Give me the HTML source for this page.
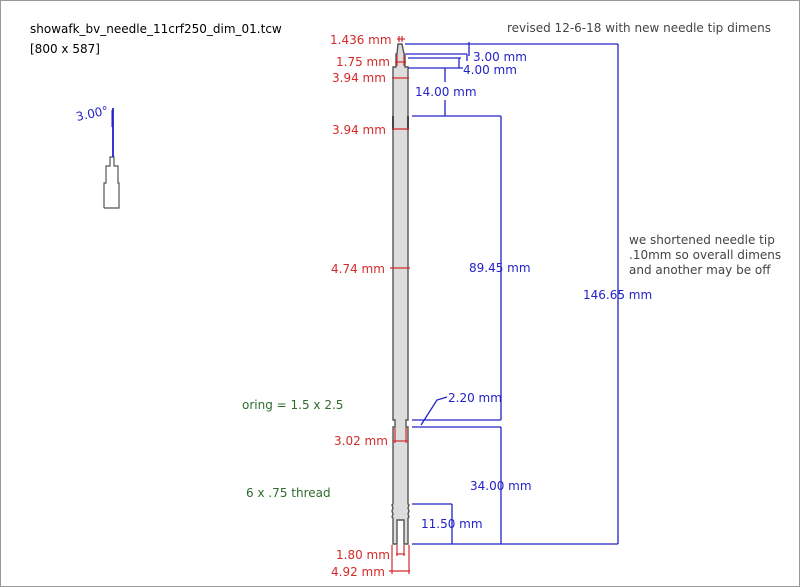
<!DOCTYPE html>
<html><head><style>
body{margin:0;background:#fff}
svg{display:block}
text{font-family:"DejaVu Sans","Liberation Sans",sans-serif;font-size:12px}
.r{fill:#d42a2a}.b{fill:#2323c8}.g{fill:#2f6b2f}.k{fill:#000}
</style></head><body>
<svg width="800" height="587" viewBox="0 0 800 587" xmlns="http://www.w3.org/2000/svg">
<rect x="0.5" y="0.5" width="799" height="586" fill="#fff" stroke="#999"/>
<text x="30" y="33" class="k" font-size="12">showafk_bv_needle_11crf250_dim_01.tcw</text>
<text x="30" y="53" class="k">[800 x 587]</text>
<text x="507" y="32" fill="#444">revised 12-6-18 with new needle tip dimens</text>
<text x="629" y="244" fill="#444">we shortened needle tip</text>
<text x="629" y="259" fill="#444">.10mm so overall dimens</text>
<text x="629" y="274" fill="#444">and another may be off</text>
<g stroke="#555" fill="none" stroke-width="1.2">
<polyline points="104,208 104,183 106,183 106,166 110,166 110,157 114,157 114,166 118,166 118,183 119,183 119,208 104,208"/>
</g>
<line x1="113" y1="108" x2="113" y2="157" stroke="#2323c8" stroke-width="1.8"/>
<line x1="112" y1="110" x2="112" y2="127" stroke="#2323c8"/>
<text x="77" y="121" class="b" transform="rotate(-12 77 121)">3.00°</text>
<path d="M398,44 L402,44 L404,54 L405,54 L405,67 L408,67 L408,420 L406,420 L406,427 L408,427 L408,504 L409,505 L408,508 L409,511 L408,514 L409,517 L408,518 L408,544 L404,544 L404,520 L397,520 L397,544 L393,544 L393,518 L392,517 L393,514 L392,511 L393,508 L392,505 L393,504 L393,427 L395,427 L395,420 L393,420 L393,67 L396,67 L396,54 L397,54 Z" fill="#ddd" stroke="#555" stroke-width="1.4"/>
<line x1="393" y1="116" x2="393" y2="130" stroke="#444" stroke-width="2"/>
<line x1="408" y1="116" x2="408" y2="130" stroke="#444" stroke-width="2"/>
<g stroke="#d42a2a" stroke-width="1.2">
<line x1="397" y1="39" x2="405" y2="39"/><line x1="399" y1="36" x2="399" y2="42"/><line x1="402" y1="36" x2="402" y2="42"/>
<line x1="395" y1="62" x2="406" y2="62"/><line x1="397" y1="55" x2="397" y2="66"/><line x1="404" y1="55" x2="404" y2="66"/>
<line x1="392" y1="78" x2="409" y2="78"/>
<line x1="392" y1="129" x2="409" y2="129"/>
<line x1="390" y1="268" x2="410" y2="268"/>
<line x1="393" y1="441" x2="408" y2="441"/><line x1="395" y1="428" x2="395" y2="443"/><line x1="406" y1="428" x2="406" y2="443"/>
<line x1="397" y1="545" x2="397" y2="556"/><line x1="404" y1="545" x2="404" y2="556"/><line x1="396" y1="554" x2="405" y2="554"/>
<line x1="392" y1="545" x2="392" y2="574"/><line x1="409" y1="545" x2="409" y2="574"/><line x1="389" y1="571" x2="410" y2="571"/>
</g>
<text x="330" y="44" class="r">1.436 mm</text>
<text x="336" y="66" class="r">1.75 mm</text>
<text x="332" y="82" class="r">3.94 mm</text>
<text x="332" y="134" class="r">3.94 mm</text>
<text x="331" y="273" class="r">4.74 mm</text>
<text x="334" y="445" class="r">3.02 mm</text>
<text x="336" y="559" class="r">1.80 mm</text>
<text x="331" y="576" class="r">4.92 mm</text>
<g stroke="#2323c8" stroke-width="1.3" fill="none">
<line x1="405" y1="44" x2="618" y2="44"/>
<line x1="618" y1="44" x2="618" y2="544"/>
<line x1="412" y1="544" x2="618" y2="544"/>
<line x1="406" y1="54" x2="467" y2="54"/><line x1="469" y1="42" x2="469" y2="56"/><line x1="467" y1="54" x2="467" y2="61"/>
<line x1="408" y1="58" x2="461" y2="58"/>
<line x1="408" y1="68" x2="463" y2="68"/><line x1="459" y1="58" x2="459" y2="68"/>
<line x1="445" y1="68" x2="445" y2="82"/><line x1="445" y1="100" x2="445" y2="116"/>
<line x1="412" y1="116" x2="501" y2="116"/>
<line x1="501" y1="116" x2="501" y2="420"/>
<line x1="412" y1="420" x2="501" y2="420"/>
<line x1="412" y1="427" x2="501" y2="427"/>
<line x1="501" y1="427" x2="501" y2="544"/>
<line x1="412" y1="504" x2="452" y2="504"/><line x1="452" y1="504" x2="452" y2="544"/>
<polyline points="421,425 437,400 447,397"/>
</g>
<text x="473" y="61" class="b">3.00 mm</text>
<text x="463" y="74" class="b">4.00 mm</text>
<text x="415" y="96" class="b">14.00 mm</text>
<text x="469" y="272" class="b">89.45 mm</text>
<text x="583" y="299" class="b">146.65 mm</text>
<text x="448" y="402" class="b">2.20 mm</text>
<text x="470" y="490" class="b">34.00 mm</text>
<text x="421" y="528" class="b">11.50 mm</text>
<text x="242" y="409" class="g">oring = 1.5 x 2.5</text>
<text x="246" y="497" class="g">6 x .75 thread</text>
</svg>
</body></html>
